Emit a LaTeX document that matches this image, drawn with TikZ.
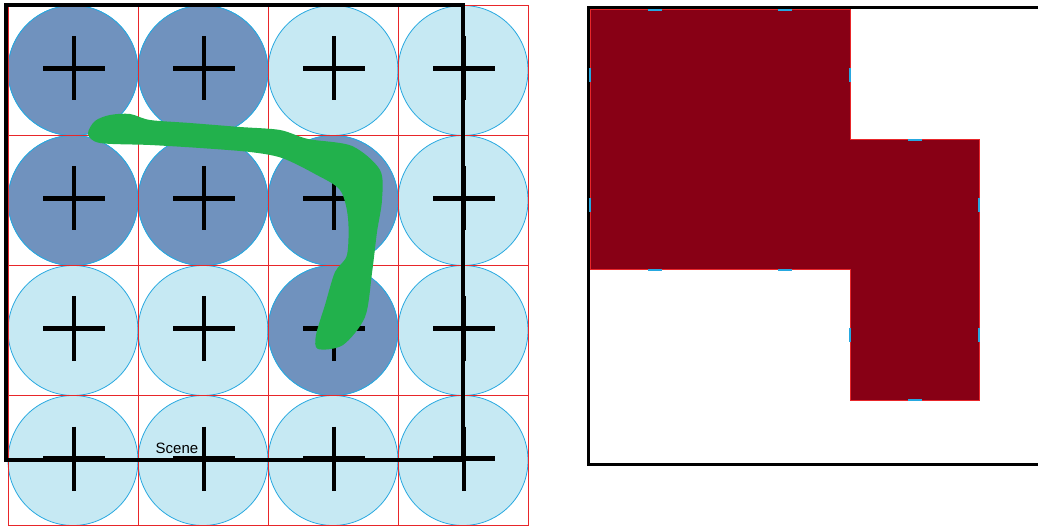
\documentclass[tikz,border=0pt]{standalone}
\usepackage{fontspec}
\setmainfont{Liberation Sans}
\definecolor{lightcirc}{HTML}{C6E9F3}
\definecolor{darkcirc}{HTML}{7092BE}
\definecolor{circline}{HTML}{26A8E0}
\definecolor{gridred}{HTML}{E8262A}
\definecolor{shapered}{HTML}{880015}
\definecolor{brush}{HTML}{22B14C}
\begin{document}
\begin{tikzpicture}[x=1pt,y=-1pt,
  cell/.style={draw=circline, line width=0.8pt, fill=lightcirc},
  hit/.style={cell, fill=darkcirc},
  cross/.style={line width=4.6pt},
  tick/.style={draw=circline, line width=1.5pt}]
\useasboundingbox (0,0) rectangle (1038,526);

% Sample circles (left grid)
\foreach \i in {0,...,3}
  \foreach \j in {0,...,3}
    \draw[cell] (73+130*\i,70.5+130*\j) circle (65);
% Covered samples
\foreach \i/\j in {0/0,1/0,0/1,1/1,2/1,2/2}
  \draw[hit] (73+130*\i,70.5+130*\j) circle (65);

% Pixel grid
\foreach \k in {0,...,4} {
  \draw[gridred, line width=0.8pt] (8+130*\k,5.5) -- (8+130*\k,525.5);
  \draw[gridred, line width=0.8pt] (8,5.5+130*\k) -- (528,5.5+130*\k);
}

% Sample crosses
\foreach \i in {0,...,3}
  \foreach \j in {0,...,3} {
    \draw[cross] (74+130*\i-31,68.5+130*\j) -- ++(62,0);
    \draw[cross] (74+130*\i,68.5+130*\j-32) -- ++(0,64);
  }

% Scene
\draw[line width=3.2pt] (6,5) rectangle (463,460);
\node[font=\fontsize{15}{17}\selectfont, anchor=base, inner sep=0pt] (scene) at (177,453) {Scene};

% Brush stroke
\fill[brush] plot[smooth cycle, tension=0.5] coordinates {
  (88,134) (95,121) (110,115) (130,114) (150,120) (190,123) (240,127)
  (280,130) (308,139) (352,146) (380,170)
  (382,200) (377,232) (372,273) (365,317) (343,345) (318,349)
  (316,335) (325,305) (335,272) (347,255) (348,218) (340,190)
  (315,174) (282,158) (250,152) (200,148) (150,145) (100,143)};

% Result frame
\draw[line width=3pt] (1045,8) -- (588,8) -- (588,464) -- (1045,464);

% Covered pixels
\filldraw[fill=shapered, draw=gridred, line width=1pt] (590,10) -- (850,10) -- (850,140)
  -- (979,140) -- (979,400) -- (850,400) -- (850,270) -- (590,270) -- cycle;

% Circle marks on the edges
\foreach \x/\y in {655/10,785/10,655/270,785/270,915/140,915/400}
  \draw[tick] (\x-7,\y) -- (\x+7,\y);
\foreach \x/\y in {590/75,590/205,850/75,850/335,979/205,979/335}
  \draw[tick] (\x,\y-7) -- (\x,\y+7);
\end{tikzpicture}
\end{document}
